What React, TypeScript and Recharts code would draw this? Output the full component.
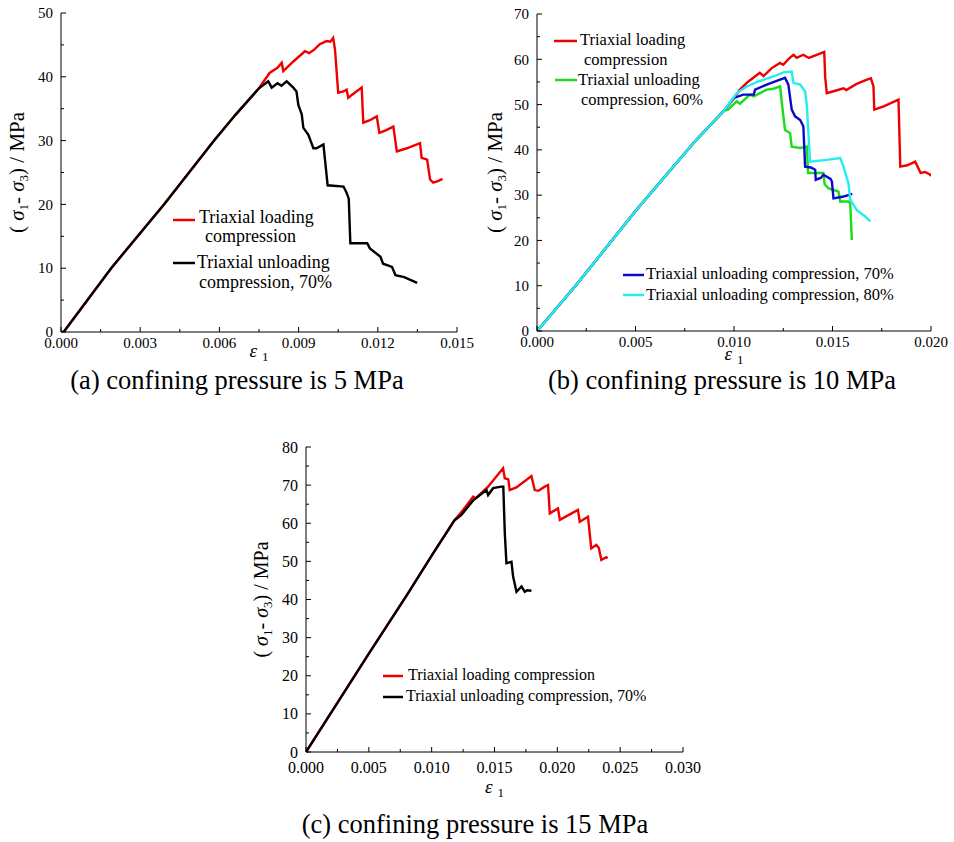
import React from 'react';
import { LineChart, Line, XAxis, YAxis, Legend } from 'recharts';

const FONT = 'Liberation Serif, Times New Roman, serif';

// (a) confining pressure 5 MPa
const strainTicksA = [0, 0.0015, 0.003, 0.0045, 0.006, 0.0075, 0.009, 0.0105, 0.012, 0.0135, 0.015];
const stressTicksA = [0, 5, 10, 15, 20, 25, 30, 35, 40, 45, 50];
const loadingA: [number, number][] = [
  [0, 0], [0.0001, 0], [0.0019, 10], [0.0039, 20], [0.0058, 30], [0.0066, 34], [0.0075, 38.2],
  [0.0079, 40.6], [0.0082, 41.4], [0.00836, 42.2], [0.00842, 40.9], [0.0088, 42.4], [0.00924, 44],
  [0.0094, 43.7], [0.0096, 44.3], [0.0098, 45.1], [0.01006, 45.6], [0.0102, 45.5], [0.01031, 46.1],
  [0.01038, 44.2], [0.0105, 37.5], [0.0107, 37.7], [0.01082, 38], [0.01088, 36.7], [0.011, 37.1],
  [0.01139, 38.3], [0.01145, 32.8], [0.0117, 33.2], [0.01196, 33.8], [0.01206, 31.2], [0.0123, 31.6],
  [0.01259, 32.2], [0.01272, 28.3], [0.0131, 28.8], [0.0136, 29.6], [0.01366, 27.3], [0.01387, 27],
  [0.01398, 23.9], [0.0141, 23.4], [0.0143, 23.7], [0.01445, 24],
];
const unloading70A: [number, number][] = [
  [0, 0], [0.0001, 0], [0.0019, 10], [0.0039, 20], [0.0058, 30], [0.0066, 34], [0.0075, 38.2],
  [0.00785, 39.3], [0.00798, 38.3], [0.0082, 39], [0.00835, 38.6], [0.00855, 39.3], [0.0088, 38.3],
  [0.00892, 37.7], [0.00899, 35.6], [0.00912, 34.1], [0.00918, 32], [0.00937, 30.9], [0.00956, 28.8],
  [0.00968, 28.8], [0.00994, 29.4], [0.01006, 24.6], [0.0101, 23], [0.0107, 22.8], [0.0108, 22],
  [0.0109, 20.9], [0.01096, 13.9], [0.0116, 13.9], [0.0117, 13.1], [0.0121, 11.8], [0.0122, 10.7],
  [0.01254, 10.2], [0.01267, 8.9], [0.013, 8.6], [0.01349, 7.7],
];

// (b) confining pressure 10 MPa
const strainTicksB = [0, 0.0025, 0.005, 0.0075, 0.01, 0.0125, 0.015, 0.0175, 0.02];
const stressTicksB = [0, 5, 10, 15, 20, 25, 30, 35, 40, 45, 50, 55, 60, 65, 70];
const loadingB: [number, number][] = [
  [0, 0], [0.002, 10.2], [0.005, 26.5], [0.008, 41.8], [0.0095, 48.7], [0.01, 51.4], [0.0103, 53.3],
  [0.0107, 55], [0.01131, 57], [0.0115, 56.3], [0.0119, 58], [0.01233, 59.2], [0.0125, 58.8],
  [0.0128, 60.2], [0.01302, 61], [0.01319, 60.3], [0.01352, 61], [0.0138, 60.3], [0.0141, 60.8],
  [0.01446, 61.4], [0.01458, 61.6], [0.01463, 56], [0.01471, 52.5], [0.0151, 53], [0.01556, 53.6],
  [0.0157, 53.2], [0.0162, 54.5], [0.01675, 55.5], [0.01695, 55.8], [0.01708, 54], [0.01712, 48.9],
  [0.0176, 49.6], [0.01835, 51.1], [0.01844, 36.3], [0.0188, 36.6], [0.0192, 37.4], [0.01947, 34.9],
  [0.0197, 35.1], [0.01996, 34.5], [0.02, 34.2],
];
const unloading60B: [number, number][] = [
  [0, 0], [0.002, 10.2], [0.005, 26.5], [0.008, 41.8], [0.0095, 48.7], [0.0097, 48.9], [0.01014, 50.7],
  [0.0103, 50.2], [0.01081, 52.2], [0.011, 51.8], [0.01166, 53.3], [0.012, 53.5], [0.01234, 54],
  [0.01243, 50.3], [0.01259, 44.4], [0.01285, 43.7], [0.01293, 40.7], [0.01336, 40.4], [0.0137, 40.7],
  [0.01376, 34.9], [0.01454, 34.9], [0.0146, 32.4], [0.0148, 31.5], [0.0153, 30.8], [0.01539, 28.6],
  [0.01581, 28.6], [0.0159, 28.2], [0.01598, 20.1],
];
const unloading70B: [number, number][] = [
  [0, 0], [0.002, 10.2], [0.005, 26.5], [0.008, 41.8], [0.0095, 48.7], [0.00997, 51.4], [0.01047, 52.2],
  [0.011, 52.2], [0.01107, 53.3], [0.01166, 54.4], [0.01234, 55.5], [0.01259, 55.9], [0.01276, 54.4],
  [0.01293, 48.9], [0.0131, 47.4], [0.01336, 46.6], [0.01352, 45.2], [0.01361, 36.3], [0.0139, 36.1],
  [0.01412, 35.6], [0.01415, 33.4], [0.0144, 33.8], [0.01454, 34.5], [0.0149, 33.6], [0.01497, 33],
  [0.01505, 29.3], [0.01556, 29.7], [0.0159, 30.1], [0.016, 30.3],
];
const unloading80B: [number, number][] = [
  [0, 0], [0.002, 10.2], [0.005, 26.5], [0.008, 41.8], [0.0095, 48.7], [0.01014, 52.5], [0.01065, 54],
  [0.01124, 55.1], [0.012, 56.2], [0.01251, 57.1], [0.01293, 57.3], [0.01302, 54.8], [0.01336, 54.4],
  [0.01361, 52.9], [0.0137, 49.6], [0.01386, 37.4], [0.01471, 37.8], [0.01539, 38.2], [0.01556, 36.3],
  [0.01581, 32.6], [0.0159, 29], [0.01624, 26.7], [0.01666, 25.3], [0.01691, 24.2],
];

// (c) confining pressure 15 MPa
const strainTicksC = [0, 0.0025, 0.005, 0.0075, 0.01, 0.0125, 0.015, 0.0175, 0.02, 0.0225, 0.025, 0.0275, 0.03];
const stressTicksC = [0, 5, 10, 15, 20, 25, 30, 35, 40, 45, 50, 55, 60, 65, 70, 75, 80];
const loadingC: [number, number][] = [
  [0, 0], [0.005, 25.8], [0.008, 41], [0.01, 51.5], [0.0118, 60.7], [0.0125, 63.5], [0.0133, 67],
  [0.0135, 66.5], [0.01449, 69.6], [0.01568, 74.4], [0.01582, 71.8], [0.0161, 71.5], [0.01621, 68.7],
  [0.01674, 69.4], [0.01794, 72.4], [0.0182, 68.7], [0.0185, 68.5], [0.019, 69.6], [0.01926, 70],
  [0.0194, 62.6], [0.02005, 63.9], [0.0202, 60.9], [0.02164, 63.5], [0.02178, 60.4], [0.02244, 61.7],
  [0.0227, 53.4], [0.0231, 54.3], [0.0233, 53.5], [0.0235, 50.4], [0.0239, 51.1], [0.024, 50.8],
];
const unloading70C: [number, number][] = [
  [0, 0], [0.005, 25.8], [0.008, 41], [0.01, 51.5], [0.0118, 60.7], [0.01237, 62.2], [0.0133, 66],
  [0.01436, 68.7], [0.01449, 67.4], [0.01489, 69.2], [0.01555, 69.6], [0.0157, 69.6], [0.01582, 57.4],
  [0.01595, 49.5], [0.01635, 49.9], [0.01648, 46], [0.01675, 42], [0.01715, 43.4], [0.01741, 42],
  [0.0176, 42.4], [0.01794, 42.3],
];

const RED = '#ee0000';
const BLACK = '#000000';
const GREEN = '#18dd18';
const BLUE = '#0a0acc';
const CYAN = '#22eeee';

const toPoints = (pairs: [number, number][]) => pairs.map(([x, y]) => ({ x, y }));

const isMajor = (v: number, step: number) => {
  const r = v / step;
  return Math.abs(r - Math.round(r)) < 1e-6;
};

const XTick = (props: any) => {
  const { x, y, payload, step, gap, fontSize } = props;
  const axisY = y - gap;
  const major = isMajor(payload.value, step);
  return (
    <g>
      <line x1={x} x2={x} y1={axisY} y2={axisY - (major ? 5 : 3)} stroke="#000" />
      {major && (
        <text x={x} y={y} dy="0.71em" textAnchor="middle" fontFamily={FONT} fontSize={fontSize} fill="#000">
          {payload.value.toFixed(3)}
        </text>
      )}
    </g>
  );
};

const YTick = (props: any) => {
  const { x, y, payload, step, gap, fontSize } = props;
  const axisX = x + gap;
  const major = isMajor(payload.value, step);
  return (
    <g>
      <line x1={axisX} x2={axisX + (major ? 5 : 3)} y1={y} y2={y} stroke="#000" />
      {major && (
        <text x={x} y={y} dy="0.35em" textAnchor="end" fontFamily={FONT} fontSize={fontSize} fill="#000">
          {payload.value}
        </text>
      )}
    </g>
  );
};

const EpsLabel = (props: any) => {
  const { viewBox, dy } = props;
  const cx = viewBox.x + viewBox.width / 2;
  return (
    <text x={cx} y={viewBox.y + dy} textAnchor="middle" fontFamily={FONT} fontSize={19} fill="#000">
      <tspan fontStyle="italic">ε</tspan>
      <tspan dx={5} dy={4} fontSize={13}>1</tspan>
    </text>
  );
};

const SigmaLabel = (props: any) => {
  const { viewBox, dx, fontSize } = props;
  const cx = viewBox.x + viewBox.width - dx;
  const cy = viewBox.y + viewBox.height / 2;
  return (
    <text transform={`translate(${cx},${cy}) rotate(-90)`} textAnchor="middle" fontFamily={FONT} fontSize={fontSize} fill="#000">
      {'( '}
      <tspan fontStyle="italic">σ</tspan>
      <tspan dy={4} fontSize={13}>1</tspan>
      <tspan dy={-4}>{'- '}</tspan>
      <tspan fontStyle="italic">σ</tspan>
      <tspan dy={4} fontSize={13}>3</tspan>
      <tspan dy={-4}>{') / MPa'}</tspan>
    </text>
  );
};

type LegendRow = { color: string; x1: number; x2: number; ly: number; lines: { text: string; x: number; y: number }[] };

const LegendSvg = ({ rows, width, height, fontSize }: { rows: LegendRow[]; width: number; height: number; fontSize: number }) => (
  <svg width={width} height={height} style={{ display: 'block' }}>
    {rows.map((r, i) => (
      <g key={i}>
        <line x1={r.x1} x2={r.x2} y1={r.ly} y2={r.ly} stroke={r.color} strokeWidth={2.5} />
        {r.lines.map((l, j) => (
          <text key={j} x={l.x} y={l.y} fontFamily={FONT} fontSize={fontSize} fill="#000">{l.text}</text>
        ))}
      </g>
    ))}
  </svg>
);

type Series = { name: string; color: string; data: [number, number][] };

type PanelProps = {
  left: number; top: number; width: number; height: number;
  plotTop: number; plotRight: number; axisLeft: number; axisBottom: number;
  xMax: number; xTicks: number[]; xStep: number; xGap: number;
  yMax: number; yTicks: number[]; yStep: number;
  tickFont: number; epsDy: number; sigmaDx: number; sigmaFont: number;
  series: Series[]; legendRows: LegendRow[]; legendFont: number;
};

const Panel = (p: PanelProps) => (
  <div style={{ position: 'absolute', left: p.left, top: p.top, fontFamily: FONT }}>
    <LineChart
      width={p.width}
      height={p.height}
      margin={{ top: p.plotTop, right: p.plotRight, bottom: 0, left: 0 }}
      style={{ fontFamily: FONT }}
    >
      <XAxis
        type="number"
        dataKey="x"
        domain={[0, p.xMax]}
        ticks={p.xTicks}
        interval={0}
        allowDataOverflow
        height={p.axisBottom}
        tickSize={0}
        tickMargin={p.xGap}
        tickLine={false}
        axisLine={{ stroke: '#000' }}
        tick={(t: any) => <XTick {...t} step={p.xStep} gap={p.xGap} fontSize={p.tickFont} />}
        label={<EpsLabel dy={p.epsDy} />}
      />
      <YAxis
        type="number"
        dataKey="y"
        domain={[0, p.yMax]}
        ticks={p.yTicks}
        interval={0}
        allowDataOverflow
        width={p.axisLeft}
        tickSize={0}
        tickMargin={8}
        tickLine={false}
        axisLine={{ stroke: '#000' }}
        tick={(t: any) => <YTick {...t} step={p.yStep} gap={8} fontSize={p.tickFont} />}
        label={<SigmaLabel dx={p.sigmaDx} fontSize={p.sigmaFont} />}
      />
      <Legend
        layout="vertical"
        align="center"
        verticalAlign="middle"
        wrapperStyle={{ left: 0, top: 0, width: p.width, height: p.height, pointerEvents: 'none' }}
        content={() => <LegendSvg rows={p.legendRows} width={p.width} height={p.height} fontSize={p.legendFont} />}
      />
      {p.series.map((s) => (
        <Line
          key={s.name}
          name={s.name}
          data={toPoints(s.data)}
          dataKey="y"
          type="linear"
          stroke={s.color}
          strokeWidth={2.4}
          dot={false}
          isAnimationActive={false}
        />
      ))}
    </LineChart>
  </div>
);

const Caption = ({ text, cx, top }: { text: string; cx: number; top: number }) => (
  <div
    style={{
      position: 'absolute', left: cx - 250, top, width: 500, textAlign: 'center',
      fontFamily: FONT, fontSize: 26.5, lineHeight: '26px', color: '#000', whiteSpace: 'nowrap',
    }}
  >
    {text}
  </div>
);

export default function App() {
  return (
    <div style={{ position: 'absolute', left: 0, top: 0, width: 954, height: 842, background: '#fff', overflow: 'hidden', fontFamily: FONT }}>
      <Panel
        left={0} top={0} width={480} height={370}
        plotTop={13} plotRight={23} axisLeft={61} axisBottom={38}
        xMax={0.015} xTicks={strainTicksA} xStep={0.003} xGap={5}
        yMax={50} yTicks={stressTicksA} yStep={10}
        tickFont={15} epsDy={25} sigmaDx={37} sigmaFont={21}
        series={[
          { name: 'Triaxial loading compression', color: RED, data: loadingA },
          { name: 'Triaxial unloading compression, 70%', color: BLACK, data: unloading70A },
        ]}
        legendFont={18}
        legendRows={[
          { color: RED, x1: 173, x2: 195, ly: 220, lines: [{ text: 'Triaxial loading', x: 199, y: 223 }, { text: 'compression', x: 205, y: 242 }] },
          { color: BLACK, x1: 173, x2: 195, ly: 263, lines: [{ text: 'Triaxial unloading', x: 197, y: 268 }, { text: 'compression, 70%', x: 199, y: 288 }] },
        ]}
      />
      <Panel
        left={477} top={0} width={477} height={370}
        plotTop={14} plotRight={23} axisLeft={60} axisBottom={39}
        xMax={0.02} xTicks={strainTicksB} xStep={0.005} xGap={5}
        yMax={70} yTicks={stressTicksB} yStep={10}
        tickFont={15} epsDy={29} sigmaDx={35} sigmaFont={21}
        series={[
          { name: 'Triaxial loading compression', color: RED, data: loadingB },
          { name: 'Triaxial unloading compression, 60%', color: GREEN, data: unloading60B },
          { name: 'Triaxial unloading compression, 70%', color: BLUE, data: unloading70B },
          { name: 'Triaxial unloading compression, 80%', color: CYAN, data: unloading80B },
        ]}
        legendFont={16.5}
        legendRows={[
          { color: RED, x1: 77, x2: 100, ly: 41, lines: [{ text: 'Triaxial loading', x: 103, y: 45 }, { text: 'compression', x: 107, y: 65 }] },
          { color: GREEN, x1: 78, x2: 100, ly: 80, lines: [{ text: 'Triaxial unloading', x: 101, y: 85 }, { text: 'compression, 60%', x: 104, y: 105 }] },
          { color: BLUE, x1: 146, x2: 167, ly: 275, lines: [{ text: 'Triaxial unloading compression, 70%', x: 169, y: 279 }] },
          { color: CYAN, x1: 146, x2: 167, ly: 295, lines: [{ text: 'Triaxial unloading compression, 80%', x: 169, y: 300 }] },
        ]}
      />
      <Panel
        left={240} top={400} width={480} height={410}
        plotTop={47} plotRight={37} axisLeft={66} axisBottom={58}
        xMax={0.03} xTicks={strainTicksC} xStep={0.005} xGap={10}
        yMax={80} yTicks={stressTicksC} yStep={10}
        tickFont={16} epsDy={41} sigmaDx={38} sigmaFont={20}
        series={[
          { name: 'Triaxial loading compression', color: RED, data: loadingC },
          { name: 'Triaxial unloading compression, 70%', color: BLACK, data: unloading70C },
        ]}
        legendFont={16}
        legendRows={[
          { color: RED, x1: 143, x2: 163, ly: 276, lines: [{ text: 'Triaxial loading compression', x: 168, y: 280 }] },
          { color: BLACK, x1: 143, x2: 163, ly: 297, lines: [{ text: 'Triaxial unloading compression, 70%', x: 166, y: 301 }] },
        ]}
      />
      <Caption text="(a) confining pressure is 5 MPa" cx={237} top={367} />
      <Caption text="(b) confining pressure is 10 MPa" cx={722} top={367} />
      <Caption text="(c) confining pressure is 15 MPa" cx={475} top={811} />
    </div>
  );
}
